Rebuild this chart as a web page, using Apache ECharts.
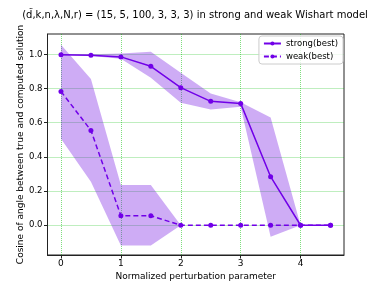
<!DOCTYPE html>
<html><head><meta charset="utf-8">
<script src="https://cdn.jsdelivr.net/npm/echarts@6/dist/echarts.min.js"></script>
<style>html,body{margin:0;padding:0;background:#fff}#c{width:382px;height:287px}</style>
</head><body><div id="c"></div>
<script>
var xs = [0, 0.5, 1, 1.5, 2, 2.5, 3, 3.5, 4, 4.5];
var strong = [0.997, 0.995, 0.985, 0.93, 0.805, 0.725, 0.713, 0.284, 0, 0];
var weak = [0.783, 0.555, 0.056, 0.056, 0, 0, 0, 0, 0, 0];
var strongUpper = [1.0, 1.0, 1.005, 1.015, 0.892, 0.771, 0.719, 0.631, 0, 0];
var strongLower = [0.994, 0.99, 0.974, 0.863, 0.717, 0.678, 0.693, -0.067, 0, 0];
var weakUpper = [1.056, 0.855, 0.236, 0.236, 0, 0, 0, 0, 0, 0];
var weakLower = [0.506, 0.255, -0.119, -0.119, 0, 0, 0, 0, 0, 0];
var titleText = '(d\u0303,k,n,\u03bb,N,r) = (15, 5, 100, 3, 3, 3) in strong and weak Wishart model';
var xName = 'Normalized perturbation parameter';
var yName = 'Cosine of angle between true and computed solution';

var FONT = 'DejaVu Sans';
var LINE = '#7100e8';
var FILL = 'rgba(112,12,225,0.34)';
var GRIDC = 'rgba(0,190,0,0.5)';

function bandData(lo, hi) {
  return xs.map(function (x, i) { return [x, lo[i], hi[i]]; });
}
function mkBand(lo, hi) {
  var d = bandData(lo, hi);
  return {
    type: 'custom', data: d, z: 1,
    renderItem: function (params, api) {
      if (params.dataIndex !== 0) return null;
      var top = [], bot = [];
      for (var i = 0; i < d.length; i++) {
        top.push(api.coord([d[i][0], d[i][2]]));
        bot.unshift(api.coord([d[i][0], d[i][1]]));
      }
      return { type: 'polygon', shape: { points: top.concat(bot) }, style: { fill: FILL }, silent: true };
    },
    encode: { x: 0, y: [1, 2] }, silent: true, animation: false
  };
}

var chart = echarts.init(document.getElementById('c'), null, { renderer: 'canvas' });
chart.setOption({
  animation: false,
  textStyle: { fontFamily: FONT },
  title: {
    text: titleText, left: 190, top: 5, textAlign: 'center',
    textStyle: { fontFamily: FONT, fontSize: 10, fontWeight: 'normal', color: '#000' }
  },
  legend: {
    data: ['strong(best)', 'weak(best)'],
    orient: 'vertical', right: 39, top: 36,
    itemWidth: 17, itemHeight: 5, itemGap: 4,
    padding: [3, 5, 3, 4],
    borderColor: '#cccccc', borderWidth: 1, borderRadius: 3,
    backgroundColor: 'rgba(255,255,255,0.8)',
    textStyle: { fontFamily: FONT, fontSize: 8.5, color: '#000' }
  },
  grid: { left: 47.5, right: 38, top: 34, bottom: 32, show: true, borderColor: '#222', borderWidth: 1 },
  xAxis: {
    type: 'value', min: -0.225, max: 4.725, splitNumber: 5,
    name: xName, nameLocation: 'middle', nameGap: 17, nameMoveOverlap: false,
    nameTextStyle: { fontFamily: FONT, fontSize: 9, color: '#000' },
    axisLine: { show: true, onZero: false, lineStyle: { color: '#222' } },
    axisTick: { show: true, length: 3.5, lineStyle: { color: '#222' } },
    axisLabel: {
      fontFamily: FONT, fontSize: 9, color: '#000', margin: 4,
      showMinLabel: false, showMaxLabel: false,
      formatter: function (v) { return Math.abs(v - Math.round(v)) < 1e-6 ? String(Math.round(v)) : ''; }
    },
    splitLine: { show: true, showMinLine: false, showMaxLine: false, lineStyle: { color: GRIDC, type: 'dotted', width: 1 } }
  },
  yAxis: {
    type: 'value', min: -0.174, max: 1.119, splitNumber: 6,
    name: yName, nameLocation: 'middle', nameGap: 22, nameRotate: 90, nameMoveOverlap: false,
    nameTextStyle: { fontFamily: FONT, fontSize: 9, color: '#000' },
    axisLine: { show: true, onZero: false, lineStyle: { color: '#222' } },
    axisTick: { show: true, length: 3.5, lineStyle: { color: '#222' } },
    axisLabel: {
      fontFamily: FONT, fontSize: 8.5, color: '#000', margin: 5,
      showMinLabel: false, showMaxLabel: false,
      formatter: function (v) { var r = Math.round(v * 5) / 5; return Math.abs(v - r) < 1e-6 ? r.toFixed(1) : ''; }
    },
    splitLine: { show: true, showMinLine: false, showMaxLine: false, lineStyle: { color: GRIDC, type: 'dotted', width: 1 } }
  },
  series: [
    mkBand(strongLower, strongUpper),
    mkBand(weakLower, weakUpper),
    {
      name: 'strong(best)', type: 'line', z: 3,
      data: xs.map(function (x, i) { return [x, strong[i]]; }),
      symbol: 'circle', symbolSize: 5, showAllSymbol: true,
      lineStyle: { color: LINE, width: 1.5 }, itemStyle: { color: LINE }
    },
    {
      name: 'weak(best)', type: 'line', z: 3,
      data: xs.map(function (x, i) { return [x, weak[i]]; }),
      symbol: 'circle', symbolSize: 5, showAllSymbol: true,
      lineStyle: { color: LINE, width: 1.5, type: [5, 3] }, itemStyle: { color: LINE }
    }
  ]
});
</script>
</body></html>
